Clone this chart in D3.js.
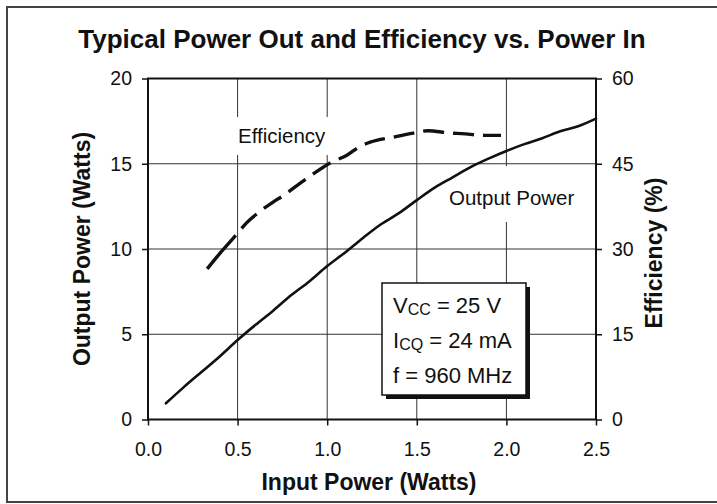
<!DOCTYPE html>
<html>
<head>
<meta charset="utf-8">
<script src="https://cdn.jsdelivr.net/npm/d3@7"></script>
<style>
  body { margin: 0; background: #fff; }
  svg { display: block; font-family: "Liberation Sans", Arial, sans-serif; }
  .tick text { font-size: 19.5px; fill: #111; }
  .tick line { stroke: #111; stroke-width: 1.5; }
</style>
</head>
<body>
<div id="chart"></div>
<script>

// DATA
const pinOut = [0.10, 0.20, 0.30, 0.40, 0.50, 0.60, 0.70, 0.80, 0.90, 1.00, 1.10, 1.20, 1.30,
                1.40, 1.50, 1.60, 1.70, 1.80, 1.90, 2.00, 2.10, 2.20, 2.30, 2.40, 2.50];
const poutWatts = [0.95, 1.9, 2.8, 3.7, 4.66, 5.55, 6.4, 7.3, 8.1, 9.0, 9.8, 10.65, 11.45,
                   12.1, 12.87, 13.6, 14.2, 14.8, 15.3, 15.75, 16.15, 16.5, 16.9, 17.2, 17.65];

const pinEff = [0.33, 0.40, 0.49, 0.55, 0.62, 0.70, 0.76, 0.85, 0.94, 1.02, 1.11, 1.18, 1.24,
                1.37, 1.48, 1.56, 1.69, 1.75, 1.88, 1.97];
const effPct = [26.5, 29.2, 32.4, 34.6, 36.5, 38.3, 39.5, 41.6, 43.6, 45.2, 46.5, 48.0, 48.8,
                49.7, 50.4, 50.8, 50.4, 50.3, 50.0, 50.0];

const xTicks = [0, 0.5, 1.0, 1.5, 2.0, 2.5];
const yLeftTicks = [0, 5, 10, 15, 20];
const yRightTicks = [0, 15, 30, 45, 60];

const conditions = [
  { main: 'V', sub: 'CC', rest: ' = 25 V' },
  { main: 'I', sub: 'CQ', rest: ' = 24 mA' },
  { main: 'f = 960 MHz', sub: '', rest: '' }
];

const width = 717;
const height = 504;
const margin = { top: 78.5, left: 148, right: 121, bottom: 84.5 };
const plotW = width - margin.left - margin.right;
const plotH = height - margin.top - margin.bottom;

const svg = d3.select('#chart').append('svg')
  .attr('width', width)
  .attr('height', height);

// outer frame of the figure
svg.append('rect')
  .attr('x', 7).attr('y', 7)
  .attr('width', 720).attr('height', 495)
  .attr('fill', 'none')
  .attr('stroke', '#444')
  .attr('stroke-width', 2);

const x = d3.scaleLinear().domain([0, 2.5]).range([margin.left, margin.left + plotW]);
const yL = d3.scaleLinear().domain([0, 20]).range([margin.top + plotH, margin.top]);
const yR = d3.scaleLinear().domain([0, 60]).range([margin.top + plotH, margin.top]);

// gridlines
const grid = svg.append('g').attr('stroke', '#333').attr('stroke-width', 1);
grid.selectAll('.vgrid')
  .data(xTicks.slice(1, -1))
  .enter().append('line')
  .attr('x1', d => x(d)).attr('x2', d => x(d))
  .attr('y1', margin.top).attr('y2', margin.top + plotH);
grid.selectAll('.hgrid')
  .data(yLeftTicks.slice(1, -1))
  .enter().append('line')
  .attr('x1', margin.left).attr('x2', margin.left + plotW)
  .attr('y1', d => yL(d)).attr('y2', d => yL(d));

// white boxes behind the curve labels (they hide the grid)
svg.append('rect')
  .attr('x', 232).attr('y', 117).attr('width', 100).attr('height', 38)
  .attr('fill', '#fff');
svg.append('rect')
  .attr('x', 444).attr('y', 166).attr('width', 138).attr('height', 56)
  .attr('fill', '#fff');

// axes
svg.append('g')
  .attr('transform', 'translate(' + margin.left + ',0)')
  .call(d3.axisLeft(yL).tickValues(yLeftTicks).tickSize(6).tickPadding(10).tickSizeOuter(0))
  .call(g => g.select('.domain').remove());

svg.append('g')
  .attr('transform', 'translate(' + (margin.left + plotW) + ',0)')
  .call(d3.axisRight(yR).tickValues(yRightTicks).tickSize(6).tickPadding(10).tickSizeOuter(0))
  .call(g => g.select('.domain').remove());

svg.append('g')
  .attr('transform', 'translate(0,' + (margin.top + plotH) + ')')
  .call(d3.axisBottom(x).tickValues(xTicks).tickFormat(d3.format('.1f')).tickSize(6).tickPadding(17).tickSizeOuter(0))
  .call(g => g.select('.domain').remove());

svg.selectAll('.tick text').attr('font-family', '"Liberation Sans", Arial, sans-serif');

// plot border
svg.append('rect')
  .attr('x', margin.left).attr('y', margin.top)
  .attr('width', plotW).attr('height', plotH)
  .attr('fill', 'none')
  .attr('stroke', '#111')
  .attr('stroke-width', 2);

// curves
const powerLine = d3.line()
  .x((d, i) => x(pinOut[i]))
  .y(d => yL(d))
  .curve(d3.curveMonotoneX);

const effLine = d3.line()
  .x((d, i) => x(pinEff[i]))
  .y(d => yR(d))
  .curve(d3.curveMonotoneX);

svg.append('path')
  .datum(poutWatts)
  .attr('d', powerLine)
  .attr('fill', 'none')
  .attr('stroke', '#111')
  .attr('stroke-width', 2.6)
  .attr('stroke-linecap', 'round');

svg.append('path')
  .datum(effPct)
  .attr('d', effLine)
  .attr('fill', 'none')
  .attr('stroke', '#111')
  .attr('stroke-width', 3.4)
  .attr('stroke-dasharray', '44,9,21,9,21,9,21,9,21,9,21,9,21,9,21,9,21,9,21,9,21,9,21,9,21,9,21,9');

// curve labels
svg.append('text')
  .attr('x', 238).attr('y', 143)
  .attr('font-size', '20.5px').attr('fill', '#111')
  .text('Efficiency');
svg.append('text')
  .attr('x', 449).attr('y', 205)
  .attr('font-size', '20.5px').attr('fill', '#111')
  .text('Output Power');

// conditions box with drop shadow
const box = { x: 382, y: 283, w: 144, h: 112 };
svg.append('rect')
  .attr('x', box.x + 4).attr('y', box.y + 4)
  .attr('width', box.w).attr('height', box.h)
  .attr('fill', '#111');
svg.append('rect')
  .attr('x', box.x).attr('y', box.y)
  .attr('width', box.w).attr('height', box.h)
  .attr('fill', '#fff')
  .attr('stroke', '#111')
  .attr('stroke-width', 1.5);

const condText = svg.selectAll('.cond')
  .data(conditions)
  .enter().append('text')
  .attr('class', 'cond')
  .attr('x', box.x + 11)
  .attr('y', (d, i) => 313 + i * 35)
  .attr('font-size', '22px')
  .attr('fill', '#111');
condText.append('tspan').text(d => d.main);
condText.filter(d => d.sub).append('tspan')
  .attr('font-size', '16px').attr('dy', 2)
  .text(d => d.sub);
condText.filter(d => d.rest).append('tspan')
  .attr('dy', -2)
  .text(d => d.rest);

// titles
svg.append('text')
  .attr('x', 362).attr('y', 48)
  .attr('text-anchor', 'middle')
  .attr('font-size', '26px').attr('font-weight', 'bold').attr('fill', '#111')
  .text('Typical Power Out and Efficiency vs. Power In');

svg.append('text')
  .attr('x', 369).attr('y', 490)
  .attr('text-anchor', 'middle')
  .attr('font-size', '23px').attr('font-weight', 'bold').attr('fill', '#111')
  .text('Input Power (Watts)');

svg.append('text')
  .attr('transform', 'translate(90,' + (margin.top + plotH / 2) + ') rotate(-90)')
  .attr('text-anchor', 'middle')
  .attr('font-size', '23px').attr('font-weight', 'bold').attr('fill', '#111')
  .text('Output Power (Watts)');

svg.append('text')
  .attr('transform', 'translate(662,' + (margin.top + plotH / 2 + 4) + ') rotate(-90)')
  .attr('text-anchor', 'middle')
  .attr('font-size', '23px').attr('font-weight', 'bold').attr('fill', '#111')
  .text('Efficiency (%)');

</script>
</body>
</html>
